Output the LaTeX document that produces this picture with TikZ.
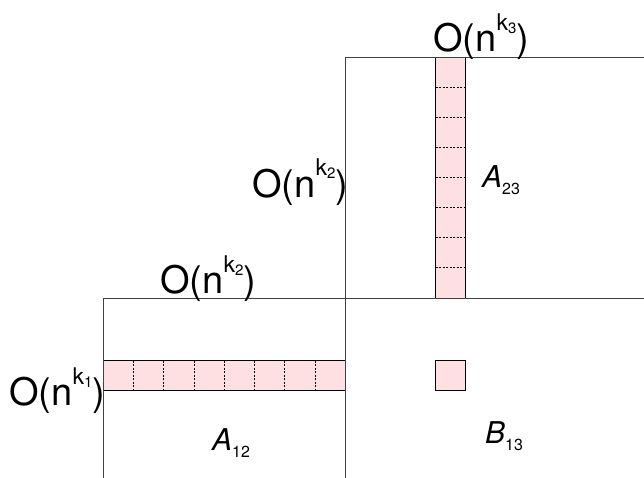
\documentclass[tikz,border=0pt]{standalone}
\usepackage{fontspec}
\setmainfont{TeX Gyre Heros}
\definecolor{rosa}{RGB}{255,224,226}
\newcommand{\ordenk}[1]{O(n\raisebox{21pt}{\fontsize{23}{23}\selectfont k\raisebox{-3pt}{\fontsize{15}{15}\selectfont #1}})}
\newcommand{\bloque}[2]{\textit{#1}\raisebox{-7pt}{\fontsize{16}{16}\selectfont #2}}
\begin{document}
\begin{tikzpicture}[
    x=1pt, y=-1pt,
    borde/.style={draw=black!75,line width=.8pt},
    franja/.style={fill=rosa,draw=black,line width=.7pt},
    sep/.style={black,line width=.5pt,dash pattern=on 2pt off 1.5pt},
    orden/.style={anchor=base west,inner sep=0pt,font=\fontsize{38}{38}\selectfont},
    etiq/.style={anchor=base west,inner sep=0pt,font=\fontsize{30}{30}\selectfont}]
    \useasboundingbox (0,0) rectangle (644,478);

    % Franjas sombreadas.
    \filldraw[franja] (435,57) rectangle (465,298);
    \foreach \t in {1,...,7} {
        \draw[sep] (435.5,57+30*\t) -- (464.5,57+30*\t);
    }
    \filldraw[franja] (103,360) rectangle (345,390);
    \foreach \t in {1,...,7} {
        \draw[sep] (103+30.25*\t,360.5) -- (103+30.25*\t,389.5);
    }
    \filldraw[franja] (435,360) rectangle (465,390);

    % Bordes de los bloques.
    \draw[borde] (345,478) -- (345,57) -- (644,57);
    \draw[borde] (103,478) -- (103,298) -- (644,298);

    \node[orden] (ordSup) at (433,52) {\ordenk{3}};
    \node[orden] (ordMed) at (252,197) {\ordenk{2}};
    \node[orden] (ordIzqSup) at (160,293) {\ordenk{2}};
    \node[orden] (ordIzq) at (9,405) {\ordenk{1}};

    \node[etiq] (a23) at (482,188) {\bloque{A}{23}};
    \node[etiq] (a12) at (212,450) {\bloque{A}{12}};
    \node[etiq] (b13) at (485,443) {\bloque{B}{13}};
\end{tikzpicture}
\end{document}
